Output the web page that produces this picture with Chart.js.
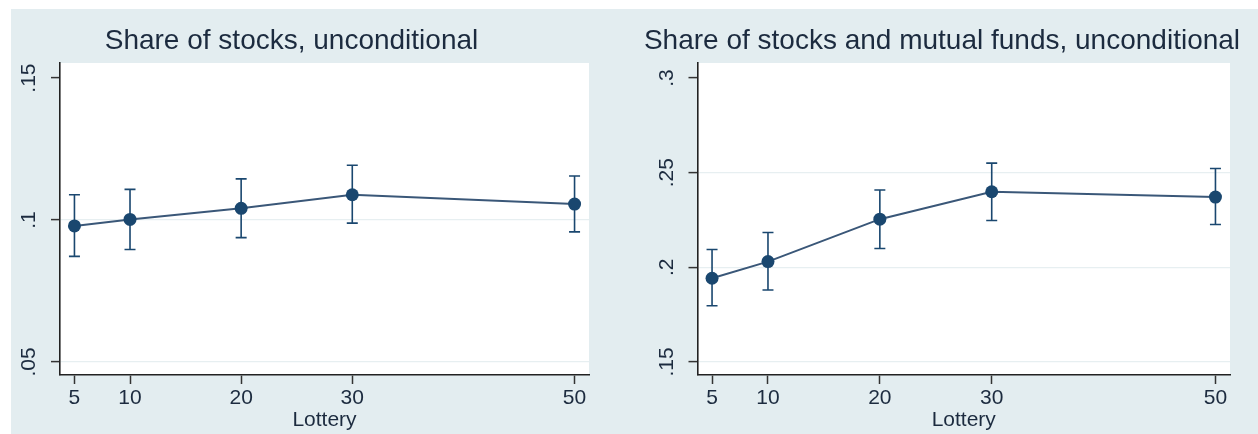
<!DOCTYPE html>
<html>
<head>
<meta charset="utf-8">
<script src="https://cdn.jsdelivr.net/npm/chart.js@4.4.1/dist/chart.umd.min.js"></script>
<style>
  html, body { margin: 0; padding: 0; background: #ffffff; }
  body { width: 1258px; height: 434px; position: relative; overflow: hidden; font-family: "Liberation Sans", Arial, sans-serif; }
  #bg { position: absolute; left: 11px; top: 9px; width: 1247px; height: 425px; background: #e3edf0; }
  .panel { position: absolute; top: 9px; height: 425px; }
  .title { position: absolute; width: 800px; text-align: center; font-size: 28px; line-height: 28px; top: 26px; color: #1c2b3f; white-space: nowrap; }
</style>
</head>
<body>
<div id="bg"></div>
<div class="panel" style="left:11px;width:609px;"><canvas id="c1" width="609" height="425"></canvas></div>
<div class="panel" style="left:620px;width:638px;"><canvas id="c2" width="638" height="425"></canvas></div>
<div class="title" style="left:-108.5px;">Share of stocks, unconditional</div>
<div class="title" style="left:542px;">Share of stocks and mutual funds, unconditional</div>
<script>
// ---- data ----
const lotteries = [5, 10, 20, 30, 50];
const xTickLabels = ['5', '10', '20', '30', '50'];

const stocksMean = [0.0979, 0.1002, 0.1041, 0.1089, 0.1056];
const stocksLo   = [0.0872, 0.0896, 0.0938, 0.0989, 0.0958];
const stocksHi   = [0.1089, 0.1108, 0.1145, 0.1193, 0.1155];
const stocksYTicks  = [0.05, 0.1, 0.15];
const stocksYLabels = ['.05', '.1', '.15'];

const fundsMean = [0.1942, 0.2030, 0.2254, 0.2399, 0.2371];
const fundsLo   = [0.1797, 0.1880, 0.2099, 0.2247, 0.2226];
const fundsHi   = [0.2094, 0.2184, 0.2408, 0.2550, 0.2522];
const fundsYTicks  = [0.15, 0.2, 0.25, 0.3];
const fundsYLabels = ['.15', '.2', '.25', '.3'];

const xLabel = 'Lottery';
// ---------------------------------------

const FONT = '"Liberation Sans", Arial, sans-serif';
const TEXT = '#1c2b3f';
const NAVY = '#1a476f';

const plotBg = {
  id: 'plotBg',
  beforeDraw(chart) {
    const a = chart.chartArea, ctx = chart.ctx;
    ctx.save();
    ctx.fillStyle = '#ffffff';
    ctx.fillRect(a.left, a.top, a.right - a.left, a.bottom - a.top);
    ctx.restore();
  }
};

const errBars = {
  id: 'errBars',
  beforeDatasetsDraw(chart, args, opts) {
    const ctx = chart.ctx, xs = chart.scales.x, ys = chart.scales.y;
    ctx.save();
    ctx.strokeStyle = NAVY;
    ctx.lineWidth = 1.6;
    opts.x.forEach((xv, i) => {
      const px = xs.getPixelForValue(xv);
      const lo = ys.getPixelForValue(opts.lo[i]);
      const hi = ys.getPixelForValue(opts.hi[i]);
      ctx.beginPath();
      ctx.moveTo(px, lo); ctx.lineTo(px, hi);
      ctx.moveTo(px - 5.5, lo); ctx.lineTo(px + 5.5, lo);
      ctx.moveTo(px - 5.5, hi); ctx.lineTo(px + 5.5, hi);
      ctx.stroke();
    });
    ctx.restore();
  }
};

const yLabels = {
  id: 'yLabels',
  afterDraw(chart, args, opts) {
    const ctx = chart.ctx, ys = chart.scales.y;
    ctx.save();
    ctx.fillStyle = TEXT;
    ctx.font = '21px ' + FONT;
    ctx.textAlign = 'center';
    ctx.textBaseline = 'middle';
    opts.ticks.forEach((v, i) => {
      ctx.save();
      ctx.translate(chart.chartArea.left - opts.offset, ys.getPixelForValue(v));
      ctx.rotate(-Math.PI / 2);
      ctx.fillText(opts.labels[i], 0, 0);
      ctx.restore();
    });
    ctx.restore();
  }
};

function makeChart(id, mean, lo, hi, yTicks, yLabs, yMin, yMax, pad, yWidth) {
  const topTick = yTicks[yTicks.length - 1];
  return new Chart(document.getElementById(id), {
    type: 'line',
    data: {
      datasets: [{
        data: lotteries.map((x, i) => ({ x: x, y: mean[i] })),
        borderColor: '#3a5778',
        borderWidth: 2,
        tension: 0,
        pointRadius: 6.5,
        pointBackgroundColor: NAVY,
        pointBorderWidth: 0,
        fill: false
      }]
    },
    options: {
      responsive: false,
      animation: false,
      devicePixelRatio: 1,
      layout: { padding: pad },
      plugins: {
        legend: { display: false },
        tooltip: { enabled: false },
        errBars: { x: lotteries, lo: lo, hi: hi },
        yLabels: { ticks: yTicks, labels: yLabs, offset: 30.5 }
      },
      scales: {
        x: {
          type: 'linear',
          min: 3.7, max: 51.3,
          afterBuildTicks: s => { s.ticks = lotteries.map(v => ({ value: v })); },
          afterFit: s => { s.height = 59; },
          ticks: {
            autoSkip: false, maxRotation: 0, padding: 2,
            color: TEXT, font: { family: FONT, size: 21 },
            callback: (v) => xTickLabels[lotteries.indexOf(v)]
          },
          grid: { drawOnChartArea: false, drawTicks: true, tickLength: 9, tickColor: '#333333', tickWidth: 1.5 },
          border: { display: true, color: '#222222', width: 1.6 },
          title: { display: true, text: xLabel, color: TEXT, font: { family: FONT, size: 21 }, padding: { top: 0, bottom: 1 } }
        },
        y: {
          type: 'linear',
          min: yMin, max: yMax,
          afterBuildTicks: s => { s.ticks = yTicks.map(v => ({ value: v })); },
          afterFit: s => { s.width = yWidth; },
          ticks: { display: false },
          grid: {
            color: c => (c.tick && c.tick.value === topTick) ? 'rgba(0,0,0,0)' : '#e7eff1',
            lineWidth: 1.2, drawTicks: true, tickLength: 9, tickColor: '#333333', tickWidth: 1.5
          },
          border: { display: true, color: '#222222', width: 1.6 }
        }
      }
    },
    plugins: [plotBg, errBars, yLabels]
  });
}

makeChart('c1', stocksMean, stocksLo, stocksHi, stocksYTicks, stocksYLabels, 0.0454, 0.1553,
  { top: 54, right: 31, left: 0, bottom: 0 }, 49);
makeChart('c2', fundsMean, fundsLo, fundsHi, fundsYTicks, fundsYLabels, 0.1431, 0.3079,
  { top: 54, right: 28, left: 28, bottom: 0 }, 49.5);
</script>
</body>
</html>
